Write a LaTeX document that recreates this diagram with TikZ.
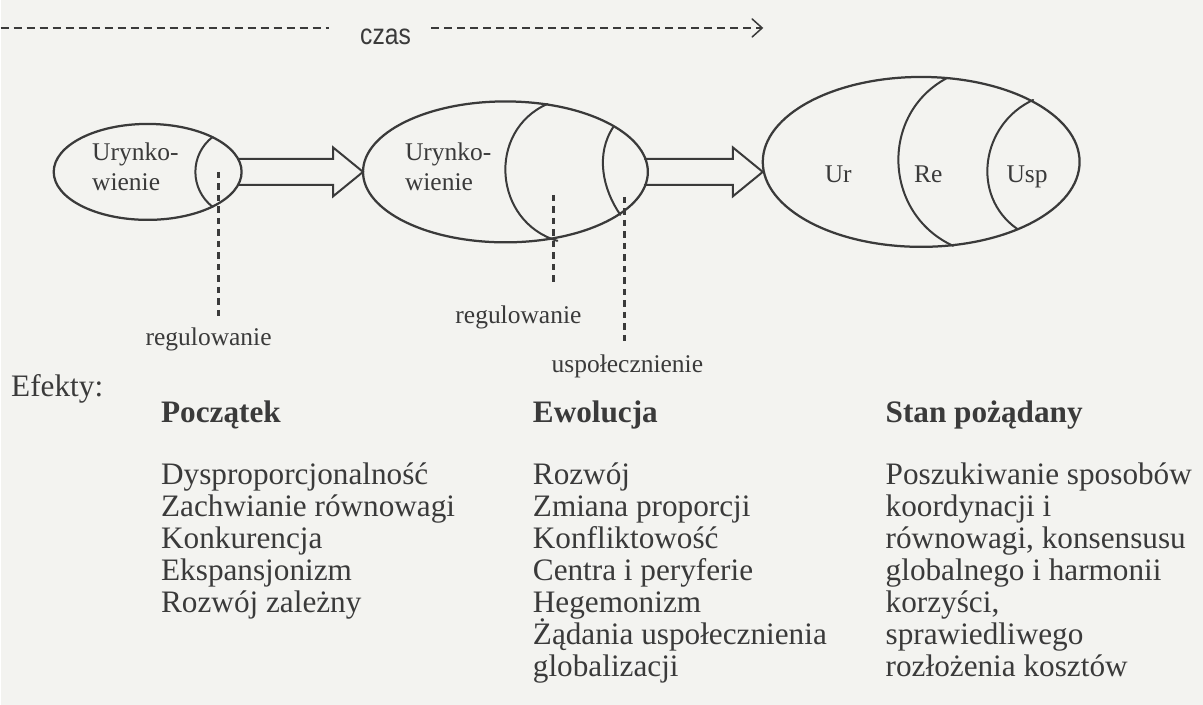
\documentclass[tikz,border=0pt]{standalone}
\usepackage{fontspec}
\setmainfont{Liberation Serif}
\newfontfamily\czasfont[FakeStretch=0.85]{Liberation Sans}
\usetikzlibrary{shapes.geometric,arrows.meta,calc}
\definecolor{ink}{RGB}{58,58,58}
\definecolor{paper}{RGB}{243,243,240}

\begin{document}
\begin{tikzpicture}[x=0.4pt,y=-0.4pt,line cap=round,line join=round,
  oval/.style={ellipse,draw=ink,line width=0.9pt,inner sep=0pt,outer sep=0pt},
  split/.style={draw=ink,line width=0.8pt},
  hollow/.style={draw=ink,line width=0.8pt,line join=miter},
  timeline/.style={draw=ink,line width=0.6pt,line cap=butt,dash pattern=on 3.2pt off 2pt},
  guide/.style={draw=ink,line width=1pt,line cap=butt,dash pattern=on 2.6pt off 2pt},
  small/.style={text=ink,inner sep=0pt,font=\fontsize{10.2}{12}\selectfont},
  body/.style={text=ink,inner sep=0pt,anchor=base west,font=\fontsize{12.5}{12.8}\selectfont},
  head/.style={body,font=\fontsize{12.5}{12.8}\selectfont\bfseries}]
\fill[paper] (0,0) rectangle (1203,705);
\coordinate (t0) at (0,28);
\coordinate (t1) at (763,28);
\node[inner sep=0pt,text=ink,font=\czasfont\fontsize{11.6}{12}\selectfont] (czas) at (385,37) {czas};
\draw[timeline] (t0) -- ($(t0 -| czas.west)+(-31,0)$);
\draw[timeline,-{Straight Barb[length=4pt,width=7.2pt,line cap=round]}] ($(t1 -| czas.east)+(20,0)$) -- (t1);
\node[oval,minimum width=75.2pt,minimum height=38.4pt] (e1) at (147,172) {};
\node[oval,minimum width=114pt,minimum height=56.4pt] (e2) at (505,172) {};
\node[oval,minimum width=126.8pt,minimum height=68pt] (e3) at (921,162) {};
\draw[split] (212,137) .. controls (189,155) and (189,189) .. (212,207);
\draw[split] (547,104) .. controls (486,131) and (493,222) .. (557,241);
\draw[split] (613,127) .. controls (595,154) and (602,189) .. (620,215);
\draw[split] (947,78) .. controls (879,114) and (883,214) .. (953,246);
\draw[split] (1033,100) .. controls (981,124) and (970,196) .. (1017,229);
\node[small,align=left,anchor=west] (ury1) at (91,167) {Urynko-\\wienie};
\node[small,align=left,anchor=west] (ury2) at (404,167) {Urynko-\\wienie};
\node[small,anchor=base] (ur) at (838,183) {Ur};
\node[small,anchor=base] (re) at (928,183) {Re};
\node[small,anchor=base] (usp) at (1027,183) {Usp};
\coordinate (tip2) at (e3.west |- e2.east);
\draw[hollow] ($(e1.east)+(-3,-13)$) -- ($(e2.west)+(-30,-13)$) -- ++(0,-11.5) -- (e2.west)
  -- ++(-30,24.5) -- ++(0,-11.5) -- ($(e1.east)+(-3,13)$);
\draw[hollow] ($(e2.east)+(-3,-13)$) -- ($(tip2)+(-30,-13)$) -- ++(0,-11.5) -- (tip2)
  -- ++(-30,24.5) -- ++(0,-11.5) -- ($(e2.east)+(-3,13)$);
\coordinate (g1) at (218,172);
\coordinate (g2) at (553,195);
\coordinate (g3) at (624,197);
\node[small,anchor=base] (reg1) at (208,346) {regulowanie};
\node[small,anchor=base] (reg2) at (518,324) {regulowanie};
\node[small,anchor=base] (uspol) at (627,373) {uspołecznienie};
\draw[guide,shorten >=4.4pt] (g1) -- (g1 |- reg1.north);
\draw[guide,shorten >=7.6pt] (g2) -- (g2 |- reg2.north);
\draw[guide,shorten >=4.8pt] (g3) -- (g3 |- uspol.north);
\node[body] (efekty) at (10,397) {Efekty:};
\node[head] (poc) at (160,423) {Początek};
\node[head] (ewo) at (532,423) {Ewolucja};
\node[head] (stan) at (885,423) {Stan pożądany};
\foreach \t [count=\i] in {Dysproporcjonalność,Zachwianie równowagi,Konkurencja,Ekspansjonizm,Rozwój zależny}
  \node[body] (poc\i) at (160,{485+32*(\i-1)}) {\t};
\foreach \t [count=\i] in {Rozwój,Zmiana proporcji,Konfliktowość,Centra i peryferie,Hegemonizm,Żądania uspołecznienia,globalizacji}
  \node[body] (ewo\i) at (532,{485+32*(\i-1)}) {\t};
\foreach \t [count=\i] in {Poszukiwanie sposobów,koordynacji i,{równowagi, konsensusu},globalnego i harmonii,{korzyści,},sprawiedliwego,rozłożenia kosztów}
  \node[body] (stan\i) at (885,{485+32*(\i-1)}) {\t};
\end{tikzpicture}
\end{document}
